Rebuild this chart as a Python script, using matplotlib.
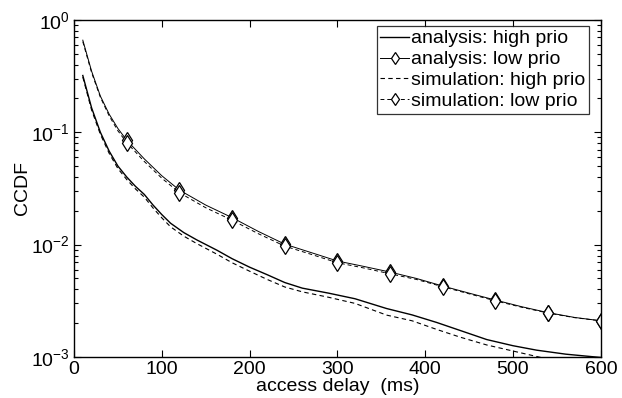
import matplotlib
matplotlib.use("Agg")
import matplotlib.pyplot as plt
from matplotlib.ticker import LogLocator, NullFormatter

plt.rcParams['font.family'] = ['Liberation Sans', 'DejaVu Sans']
plt.rcParams['mathtext.fontset'] = 'custom'
plt.rcParams['mathtext.rm'] = 'Liberation Sans'
plt.rcParams['mathtext.it'] = 'Liberation Sans'

# --- data ---
delay_low = [10, 20, 30, 40, 50, 60, 80, 100, 120, 150, 180, 210, 240, 270,
             300, 330, 360, 390, 420, 450, 480, 510, 540, 570, 600]
ana_low = [0.66, 0.35, 0.21, 0.145, 0.108, 0.085, 0.058, 0.041, 0.0306, 0.0225,
           0.0174, 0.0131, 0.0101, 0.0085, 0.00715, 0.0064, 0.0057, 0.0050,
           0.00428, 0.0037, 0.00321, 0.0028, 0.00248, 0.00225, 0.0021]
sim_low = [0.64, 0.34, 0.205, 0.14, 0.103, 0.081, 0.055, 0.039, 0.0290, 0.0213,
           0.0165, 0.0125, 0.0097, 0.0082, 0.0069, 0.0062, 0.0055, 0.0049,
           0.00422, 0.00365, 0.00316, 0.00277, 0.00246, 0.00224, 0.0021]

delay_high = [10, 20, 30, 40, 50, 60, 70, 80, 90, 100, 110, 125, 140, 163, 180,
              200, 220, 240, 260, 290, 320, 356, 385, 413, 440, 470, 500, 527,
              560, 600]
ana_high = [0.32, 0.165, 0.10, 0.068, 0.050, 0.040, 0.033, 0.028, 0.0225,
            0.0185, 0.0155, 0.0128, 0.0110, 0.0089, 0.0075, 0.0063, 0.0054,
            0.0046, 0.0041, 0.0037, 0.0033, 0.0027, 0.00237, 0.00203, 0.00172,
            0.00143, 0.00126, 0.00115, 0.00106, 0.00099]
sim_high = [0.31, 0.158, 0.096, 0.065, 0.0475, 0.038, 0.0313, 0.0265, 0.0212,
            0.0173, 0.0144, 0.0119, 0.0102, 0.0082, 0.0069, 0.0058, 0.0049,
            0.0042, 0.0038, 0.0034, 0.0030, 0.00236, 0.0021, 0.00176, 0.0015,
            0.00128, 0.00113, 0.00101, 0.00088, 0.0008]

marker_x = [60, 120, 180, 240, 300, 360, 420, 480, 540, 600]

fig = plt.figure(figsize=(6.22, 3.98), dpi=100)
ax = fig.add_axes([0.119, 0.103, 0.847, 0.847])

mk = dict(marker='d', markersize=8.5, markerfacecolor='white', markeredgecolor='black',
          markeredgewidth=0.9)
idx = [delay_low.index(x) for x in marker_x]

ax.plot(delay_high, ana_high, color='black', lw=1.0, label='analysis: high prio')
ax.plot(delay_low, ana_low, color='black', lw=0.7, markevery=idx,
        label='analysis: low prio', **mk)
ax.plot(delay_high, sim_high, color='black', lw=0.8, ls=(0, (4, 3)),
        label='simulation: high prio')
ax.plot(delay_low, sim_low, color='black', lw=0.7, ls=(0, (4, 3)), markevery=idx,
        label='simulation: low prio', **mk)

ax.set_yscale('log')
ax.set_xlim(0, 600)
ax.set_ylim(1e-3, 1)
ax.set_xticks([0, 100, 200, 300, 400, 500, 600])
ax.yaxis.set_major_locator(LogLocator(base=10, numticks=10))
ax.yaxis.set_minor_locator(LogLocator(base=10, subs=range(2, 10), numticks=10))
ax.yaxis.set_minor_formatter(NullFormatter())
ax.tick_params(which='both', direction='in', top=True, right=True,
               labelsize=14, width=0.8, pad=3)
ax.tick_params(which='major', length=5)
ax.tick_params(which='minor', length=3)
for s in ax.spines.values():
    s.set_linewidth(1.0)

ax.set_xlabel('access delay  (ms)', fontsize=14, labelpad=0)
ax.set_ylabel('CCDF', fontsize=14, labelpad=0)

leg = ax.legend(loc='upper right', bbox_to_anchor=(0.977, 0.982), borderaxespad=0,
                fontsize=14, frameon=True, fancybox=False,
                edgecolor='black', handlelength=1.45, handletextpad=0.1,
                borderpad=0.2, labelspacing=0.17, markerscale=0.75)
leg.get_frame().set_linewidth(0.9)

fig.savefig('out.png', dpi=100)
